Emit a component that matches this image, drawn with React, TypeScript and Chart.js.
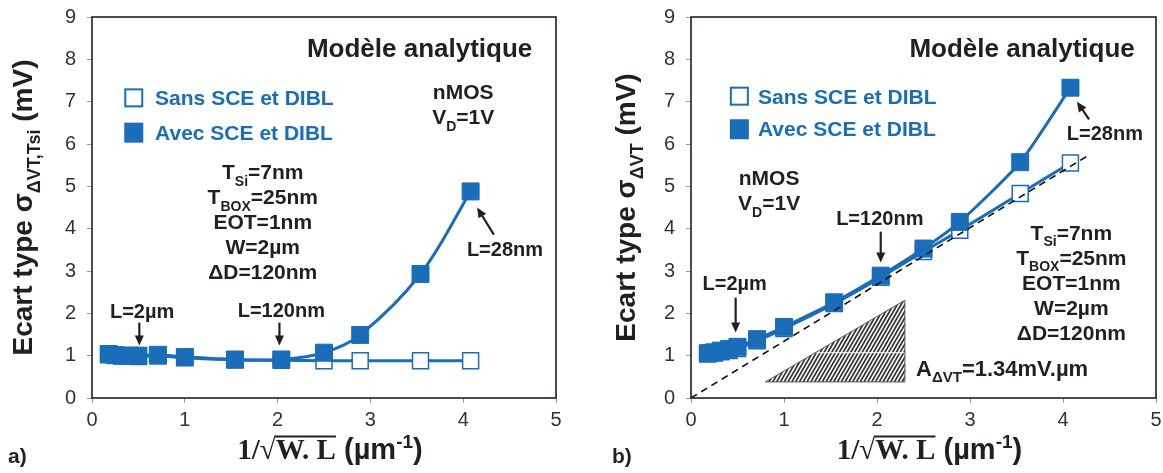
import React, { useEffect, useRef } from 'react';
import { Chart, registerables } from 'chart.js';

Chart.register(...registerables);

// ---------- data ----------
const X_VALUES = [0.18, 0.25, 0.32, 0.41, 0.5, 0.71, 1.0, 1.54, 2.04, 2.5, 2.89, 3.54, 4.08];
const A_SANS = [1.02, 1.01, 1.0, 0.99, 0.98, 0.99, 0.95, 0.9, 0.89, 0.88, 0.88, 0.88, 0.88];
const A_AVEC = [1.04, 1.01, 1.0, 1.0, 1.0, 1.02, 0.97, 0.91, 0.91, 1.07, 1.49, 2.93, 4.88];
const B_SANS = [1.04, 1.06, 1.09, 1.12, 1.17, 1.35, 1.64, 2.23, 2.85, 3.46, 3.96, 4.83, 5.55];
const B_AVEC = [1.06, 1.08, 1.12, 1.16, 1.21, 1.39, 1.68, 2.26, 2.89, 3.53, 4.16, 5.57, 7.33];
const FIT_X = [0, 4.25];
const FIT_Y = [0, 5.7];
const X_TICKS = [0, 1, 2, 3, 4, 5];
const Y_TICKS = [0, 1, 2, 3, 4, 5, 6, 7, 8, 9];
const LEGEND_LABELS = ['Sans SCE et DIBL', 'Avec SCE et DIBL'];

const BLUE = '#1a6db8';
const INK = '#231f20';
const SANS = '"Liberation Sans", Arial, sans-serif';
const SERIF = '"Liberation Serif", "Times New Roman", serif';

type Seg = { t: string; s?: 'sub' | 'sup'; serif?: boolean; over?: boolean };

function segSize(seg: Seg, size: number) {
  return seg.s ? Math.round(size * 0.66) : size;
}
function segFont(seg: Seg, size: number) {
  return `bold ${segSize(seg, size)}px ${seg.serif ? SERIF : SANS}`;
}
function richWidth(ctx: CanvasRenderingContext2D, segs: Seg[], size: number) {
  let w = 0;
  for (const s of segs) {
    ctx.font = segFont(s, size);
    w += ctx.measureText(s.t).width;
  }
  return w;
}
function drawRich(
  ctx: CanvasRenderingContext2D,
  segs: Seg[],
  x: number,
  y: number,
  size: number,
  color: string,
  align: 'left' | 'center' = 'center'
) {
  ctx.save();
  ctx.fillStyle = color;
  ctx.strokeStyle = color;
  ctx.textAlign = 'left';
  ctx.textBaseline = 'alphabetic';
  const w = richWidth(ctx, segs, size);
  let cx = align === 'center' ? x - w / 2 : x;
  const base = y + size * 0.358;
  let overStart = -1;
  let overY = 0;
  for (const s of segs) {
    ctx.font = segFont(s, size);
    const dy = s.s === 'sub' ? size * 0.3 : s.s === 'sup' ? -size * 0.4 : 0;
    ctx.fillText(s.t, cx, base + dy);
    const m = ctx.measureText(s.t);
    if (s.t === '√') {
      overStart = cx + m.actualBoundingBoxRight - 1;
      overY = base - m.actualBoundingBoxAscent + 1;
    }
    if (s.over && overStart >= 0) {
      ctx.lineWidth = 2;
      ctx.beginPath();
      ctx.moveTo(overStart, overY);
      ctx.lineTo(cx + m.width, overY);
      ctx.stroke();
    }
    cx += m.width;
  }
  ctx.restore();
}

function arrow(ctx: CanvasRenderingContext2D, x1: number, y1: number, x2: number, y2: number) {
  const a = Math.atan2(y2 - y1, x2 - x1);
  const hl = 10;
  const hw = 4.5;
  const c = Math.cos(a);
  const s = Math.sin(a);
  ctx.save();
  ctx.strokeStyle = INK;
  ctx.fillStyle = INK;
  ctx.lineWidth = 2.2;
  ctx.beginPath();
  ctx.moveTo(x1, y1);
  ctx.lineTo(x2 - c * hl * 0.7, y2 - s * hl * 0.7);
  ctx.stroke();
  ctx.beginPath();
  ctx.moveTo(x2, y2);
  ctx.lineTo(x2 - c * hl - s * hw, y2 - s * hl + c * hw);
  ctx.lineTo(x2 - c * hl + s * hw, y2 - s * hl - c * hw);
  ctx.closePath();
  ctx.fill();
  ctx.restore();
}

type Panel = 'a' | 'b';

function makePlugin(panel: Panel) {
  return {
    id: 'annot_' + panel,
    beforeDatasetsDraw(chart: any) {
      if (panel !== 'b') return;
      const ctx: CanvasRenderingContext2D = chart.ctx;
      const X = (v: number) => chart.scales.x.getPixelForValue(v);
      const Y = (v: number) => chart.scales.y.getPixelForValue(v);
      const x0 = X(0.8), x1 = X(2.3), yb = Y(0.38), yt = Y(2.31);
      ctx.save();
      ctx.beginPath();
      ctx.moveTo(x0, yb);
      ctx.lineTo(x1, yb);
      ctx.lineTo(x1, yt);
      ctx.closePath();
      ctx.fillStyle = '#ffffff';
      ctx.fill();
      ctx.save();
      ctx.clip();
      ctx.strokeStyle = '#333333';
      ctx.lineWidth = 1.7;
      const h = yb - yt;
      const dx = h / Math.tan((60 * Math.PI) / 180);
      for (let xx = x0 - dx - 10; xx < x1 + 10; xx += 3.8) {
        ctx.beginPath();
        ctx.moveTo(xx, yb);
        ctx.lineTo(xx + dx, yt);
        ctx.stroke();
      }
      ctx.strokeStyle = '#ffffff';
      ctx.lineWidth = 1;
      ctx.beginPath();
      ctx.moveTo(x0, Y(1.07));
      ctx.lineTo(x1, Y(1.07));
      ctx.stroke();
      ctx.restore();
      ctx.strokeStyle = '#555';
      ctx.lineWidth = 1;
      ctx.beginPath();
      ctx.moveTo(x0, yb);
      ctx.lineTo(x1, yb);
      ctx.lineTo(x1, yt);
      ctx.closePath();
      ctx.stroke();
      ctx.restore();
    },
    afterDraw(chart: any) {
      const ctx: CanvasRenderingContext2D = chart.ctx;
      const area = chart.chartArea;
      const X = (v: number) => chart.scales.x.getPixelForValue(v);
      const Y = (v: number) => chart.scales.y.getPixelForValue(v);

      // frame
      ctx.save();
      ctx.strokeStyle = INK;
      ctx.lineWidth = 1.6;
      ctx.strokeRect(area.left, area.top, area.right - area.left, area.bottom - area.top);
      ctx.restore();

      // axis titles
      const midY = (area.top + area.bottom) / 2;
      const ySegs: Seg[] =
        panel === 'a'
          ? [{ t: 'Ecart type σ' }, { t: 'ΔVT,Tsi', s: 'sub' }, { t: ' (mV)' }]
          : [{ t: 'Ecart type σ' }, { t: 'ΔVT', s: 'sub' }, { t: ' (mV)' }];
      ctx.save();
      ctx.translate(panel === 'a' ? 22 : 45, midY);
      ctx.rotate(-Math.PI / 2);
      drawRich(ctx, ySegs, 0, 0, 28, INK, 'center');
      ctx.restore();

      const xSegs: Seg[] = [
        { t: '1/', serif: true },
        { t: '√', serif: true },
        { t: 'W. L', serif: true, over: true },
        { t: ' (µm' },
        { t: '-1', s: 'sup' },
        { t: ')' },
      ];
      drawRich(ctx, xSegs, (area.left + area.right) / 2 + 6, 449, 29, INK, 'center');
      drawRich(ctx, [{ t: panel === 'a' ? 'a)' : 'b)' }], panel === 'a' ? 8 : 32, 455, 21, INK, 'left');

      // title
      drawRich(ctx, [{ t: 'Modèle analytique' }], X(panel === 'a' ? 3.53 : 3.56), Y(8.28), 26, INK);

      // legend
      const lx = panel === 'a' ? 0.45 : 0.52;
      const ly1 = panel === 'a' ? 7.09 : 7.13;
      const ly2 = panel === 'a' ? 6.28 : 6.36;
      const tx = panel === 'a' ? 0.68 : 0.72;
      const side = 19;
      ctx.save();
      ctx.fillStyle = '#fff';
      ctx.strokeStyle = BLUE;
      ctx.lineWidth = 2;
      ctx.fillRect(X(lx) - side / 2, Y(ly1) - side / 2, side, side);
      ctx.strokeRect(X(lx) - side / 2 + 1, Y(ly1) - side / 2 + 1, side - 2, side - 2);
      ctx.fillStyle = BLUE;
      ctx.fillRect(X(lx) - side / 2, Y(ly2) - side / 2, side, side + 1);
      ctx.restore();
      drawRich(ctx, [{ t: LEGEND_LABELS[0] }], X(tx), Y(ly1), 21, BLUE, 'left');
      drawRich(ctx, [{ t: LEGEND_LABELS[1] }], X(tx), Y(ly2), 21, BLUE, 'left');

      // nMOS / VD
      const nx = panel === 'a' ? 4.0 : 0.84;
      const ny1 = panel === 'a' ? 7.23 : 5.2;
      const ny2 = panel === 'a' ? 6.64 : 4.61;
      drawRich(ctx, [{ t: 'nMOS' }], X(nx), Y(ny1), 21, INK);
      drawRich(ctx, [{ t: 'V' }, { t: 'D', s: 'sub' }, { t: '=1V' }], X(nx), Y(ny2), 21, INK);

      // parameter block
      const px = panel === 'a' ? 1.84 : 4.09;
      const pys = panel === 'a' ? [5.34, 4.75, 4.17, 3.58, 2.99] : [3.92, 3.33, 2.74, 2.15, 1.55];
      const params: Seg[][] = [
        [{ t: 'T' }, { t: 'Si', s: 'sub' }, { t: '=7nm' }],
        [{ t: 'T' }, { t: 'BOX', s: 'sub' }, { t: '=25nm' }],
        [{ t: 'EOT=1nm' }],
        [{ t: 'W=2µm' }],
        [{ t: 'ΔD=120nm' }],
      ];
      params.forEach((p, i) => drawRich(ctx, p, X(px), Y(pys[i]), 21, INK));

      // L labels and arrows
      if (panel === 'a') {
        drawRich(ctx, [{ t: 'L=2µm' }], X(0.54), Y(2.06), 20, INK);
        arrow(ctx, X(0.51), Y(1.78), X(0.51), Y(1.24));
        drawRich(ctx, [{ t: 'L=120nm' }], X(2.04), Y(2.08), 20, INK);
        arrow(ctx, X(2.02), Y(1.78), X(2.02), Y(1.24));
        drawRich(ctx, [{ t: 'L=28nm' }], X(4.45), Y(3.52), 20, INK);
        arrow(ctx, X(4.33), Y(3.86), X(4.15), Y(4.5));
      } else {
        drawRich(ctx, [{ t: 'L=120nm' }], X(2.03), Y(4.25), 20, INK);
        arrow(ctx, X(2.04), Y(3.93), X(2.04), Y(3.2));
        drawRich(ctx, [{ t: 'L=2µm' }], X(0.47), Y(2.72), 20, INK);
        arrow(ctx, X(0.48), Y(2.37), X(0.48), Y(1.55));
        drawRich(ctx, [{ t: 'L=28nm' }], X(4.45), Y(6.26), 20, INK);
        arrow(ctx, X(4.28), Y(6.58), X(4.15), Y(7.0));
        drawRich(
          ctx,
          [{ t: 'A' }, { t: 'ΔVT', s: 'sub' }, { t: '=1.34mV.µm' }],
          X(2.42),
          Y(0.71),
          22,
          INK,
          'left'
        );
      }
    },
  };
}

function buildConfig(panel: Panel): any {
  const sans = panel === 'a' ? A_SANS : B_SANS;
  const avec = panel === 'a' ? A_AVEC : B_AVEC;
  const tension = panel === 'a' ? 0.35 : 0.2;
  const datasets: any[] = [
    {
      label: LEGEND_LABELS[0],
      data: X_VALUES.map((x, i) => ({ x, y: sans[i] })),
      borderColor: BLUE,
      backgroundColor: '#ffffff',
      borderWidth: 3,
      pointStyle: 'rect',
      pointRadius: 11.3,
      pointBorderWidth: 1.5,
      pointBorderColor: BLUE,
      pointBackgroundColor: '#ffffff',
      tension,
      order: 3,
    },
    {
      label: LEGEND_LABELS[1],
      data: X_VALUES.map((x, i) => ({ x, y: avec[i] })),
      borderColor: BLUE,
      backgroundColor: BLUE,
      borderWidth: 3,
      pointStyle: 'rect',
      pointRadius: 12,
      pointBorderWidth: 1,
      pointBorderColor: BLUE,
      pointBackgroundColor: BLUE,
      tension,
      order: 2,
    },
  ];
  if (panel === 'b') {
    datasets.push({
      label: 'fit',
      data: FIT_X.map((x, i) => ({ x, y: FIT_Y[i] })),
      borderColor: '#111',
      borderWidth: 1.6,
      borderDash: [7, 5],
      pointRadius: 0,
      tension: 0,
      order: 1,
    });
  }
  const yWidth = panel === 'a' ? 92 : 111;
  return {
    type: 'line',
    data: { datasets },
    options: {
      responsive: false,
      animation: false,
      events: [],
      layout: { padding: { left: 0, right: 24, top: 17, bottom: 0 } },
      plugins: { legend: { display: false }, tooltip: { enabled: false } },
      scales: {
        x: {
          type: 'linear',
          min: 0,
          max: 5,
          afterBuildTicks: (s: any) => {
            s.ticks = X_TICKS.map((v) => ({ value: v }));
          },
          afterFit: (s: any) => {
            s.height = 75;
            s.paddingLeft = 0;
            s.paddingRight = 0;
          },
          grid: { display: true, drawOnChartArea: false, drawTicks: true, tickLength: 5, color: '#9a9a9a' },
          border: { display: false },
          ticks: { font: { family: SANS, size: 20 }, color: '#333', padding: 5, maxRotation: 0 },
        },
        y: {
          type: 'linear',
          min: 0,
          max: 9,
          afterBuildTicks: (s: any) => {
            s.ticks = Y_TICKS.map((v) => ({ value: v }));
          },
          afterFit: (s: any) => {
            s.width = yWidth;
            s.paddingTop = 0;
            s.paddingBottom = 0;
          },
          grid: { display: true, drawOnChartArea: false, drawTicks: true, tickLength: 5, color: '#9a9a9a' },
          border: { display: false },
          ticks: { font: { family: SANS, size: 20 }, color: '#333', padding: 11 },
        },
      },
    },
    plugins: [makePlugin(panel)],
  };
}

function PanelChart({ panel, left, width }: { panel: Panel; left: number; width: number }) {
  const ref = useRef<HTMLCanvasElement | null>(null);
  useEffect(() => {
    if (!ref.current) return;
    const chart = new Chart(ref.current, buildConfig(panel));
    return () => chart.destroy();
  }, [panel]);
  return (
    <canvas
      ref={ref}
      width={width}
      height={473}
      style={{ position: 'absolute', left, top: 0, width, height: 473, display: 'block' }}
    />
  );
}

export default function App() {
  return (
    <div
      style={{
        position: 'absolute',
        left: 0,
        top: 0,
        width: 1163,
        height: 473,
        background: '#fff',
        overflow: 'hidden',
      }}
    >
      <PanelChart panel="b" left={580} width={600} />
      <PanelChart panel="a" left={0} width={580} />
    </div>
  );
}
